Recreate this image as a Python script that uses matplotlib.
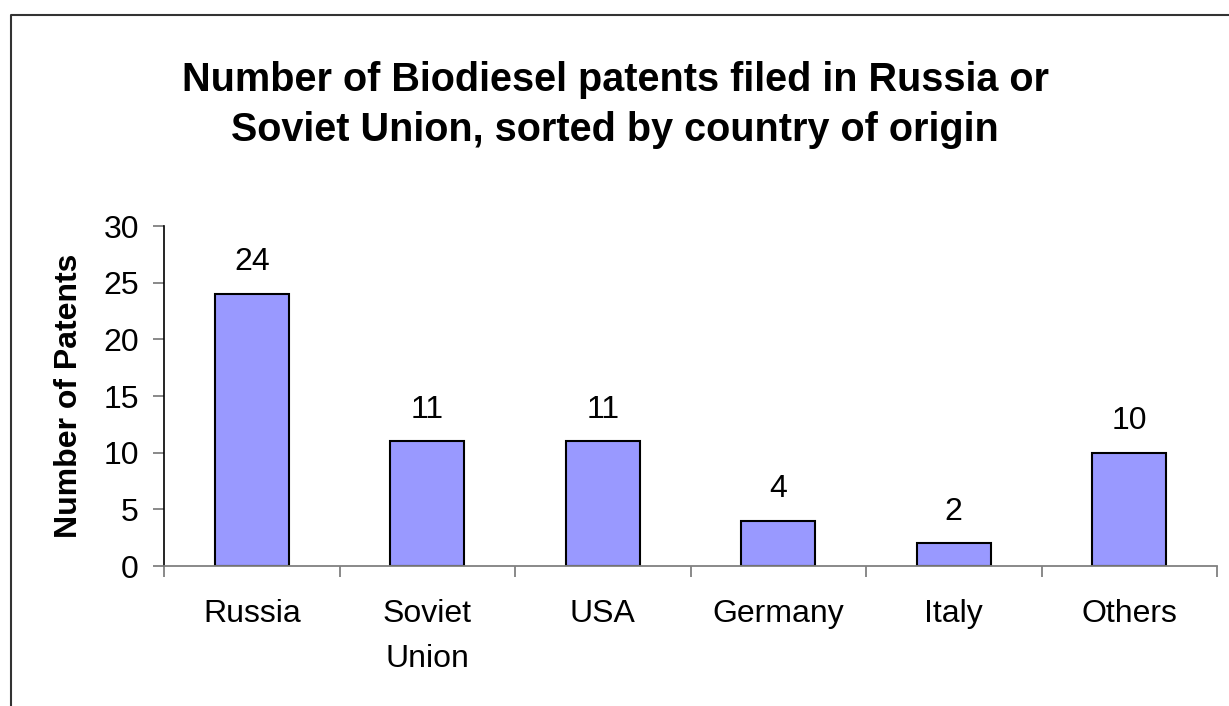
import matplotlib.pyplot as plt
from matplotlib.lines import Line2D
import numpy as np

plt.rcParams['font.family'] = ['Liberation Sans', 'DejaVu Sans']

countries = ['Russia', 'Soviet\nUnion', 'USA', 'Germany', 'Italy', 'Others']
patents = [24, 11, 11, 4, 2, 10]
title_lines = ['Number of Biodiesel patents filed in Russia or',
               'Soviet Union, sorted by country of origin']

W, H = 1229, 706
fig = plt.figure(figsize=(W / 100, H / 100), dpi=100)
ax = fig.add_axes([164 / W, 1 - 566 / H, (1217 - 164) / W, (566 - 226) / H])

x = np.arange(len(countries))
bars = ax.bar(x, patents, width=0.42, color='#9999FF', edgecolor='black', linewidth=1.5)

for xi, v in zip(x, patents):
    ax.annotate(str(v), (xi, v), xytext=(0, 12), textcoords='offset points',
                ha='center', va='bottom', fontsize=23)

ax.set_xlim(-0.5, len(countries) - 0.5)
ax.set_ylim(0, 30)
ax.set_yticks(range(0, 31, 5))
ax.set_xticks(x)
ax.set_xticklabels(countries, fontsize=23, linespacing=1.65)
ax.set_xticks(np.arange(-0.5, len(countries)), minor=True)
ax.tick_params(axis='x', which='major', length=0, pad=24)
ax.tick_params(axis='x', which='minor', length=8, color='#808080', width=1.3)
ax.tick_params(axis='y', length=8, color='#808080', width=1.3, labelsize=23, pad=10)

for side in ['top', 'right']:
    ax.spines[side].set_visible(False)
ax.spines['bottom'].set_color('#808080')
ax.spines['bottom'].set_linewidth(1.3)
ax.spines['left'].set_color('black')
ax.spines['left'].set_linewidth(1.2)

ax.set_ylabel('Number of Patents', fontsize=23, fontweight='bold', labelpad=14)

for line, base in zip(title_lines, [91, 141]):
    fig.text(615 / W, 1 - base / H, line, ha='center', va='baseline',
             fontsize=28.5, fontweight='bold')

# chart area border (top and left edges visible)
fig.add_artist(Line2D([11 / W, 11 / W, 1.0], [0.0, 1 - 15 / H, 1 - 15 / H],
                      transform=fig.transFigure, color='#333333', linewidth=1.5))

fig.savefig('out.png', dpi=100)
